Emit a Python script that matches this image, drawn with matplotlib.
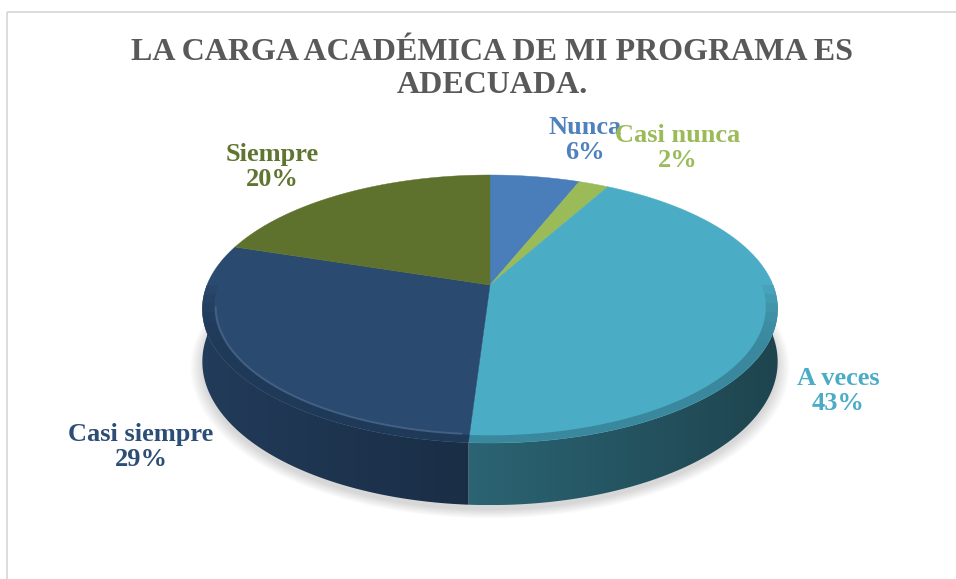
import numpy as np
import matplotlib
matplotlib.use("Agg")
import matplotlib.pyplot as plt
from matplotlib.colors import to_rgb
from matplotlib.patches import Polygon, Rectangle

# -------- DATA --------
labels = ["Nunca", "Casi nunca", "A veces", "Casi siempre", "Siempre"]
values = [6, 2, 43, 29, 20]
colors = ["#4A7EBB", "#9BBB59", "#4BACC6", "#2A4A70", "#5E722E"]
label_colors = ["#4F81BD", "#9BBB59", "#4BACC6", "#2C4D75", "#5F7530"]
label_pos = [(585, 140), (678, 148), (838, 391), (141, 447), (272, 167)]
title = "LA CARGA ACADÉMICA DE MI PROGRAMA ES\nADECUADA."

# -------- LAYOUT (pixels) --------
W, H = 956, 579
CX, CY = 490, 285      # projected centre of the top face
A, B = 283, 129.7      # horizontal / vertical radius before perspective
K = 0.179              # perspective strength
DEPTH = 51             # thickness of the pie

plt.rcParams["font.family"] = ["Liberation Serif", "DejaVu Serif"]


def proj(t, r=1.0, depth=0.0):
    # 3D circle point (angle t in degrees) -> screen pixels
    t = np.radians(t)
    u, v = r * np.cos(t), r * np.sin(t)
    den = 1 + K * v
    return CX + A * u / den, CY - B * v / den + depth / den


fig = plt.figure(figsize=(W / 100, H / 100), dpi=100)
ax = fig.add_axes([0, 0, 1, 1])
ax.axis("off")

ax.add_patch(Rectangle((7, 12), W + 20, H + 20, fill=False,
                       edgecolor="#D9D9D9", lw=1.3))

# soft shadow under the pie
ts_all = np.linspace(0, 360, 361)
for s in np.linspace(1.0, 1.04, 10):
    sx, sy = proj(ts_all, r=s, depth=DEPTH + 4)
    ax.add_patch(Polygon(np.column_stack([sx, sy]), closed=True,
                         color="black", alpha=0.017, lw=0, zorder=1))

cum = np.concatenate([[0], np.cumsum(values)]) / sum(values)

# side walls (front half only: angles -180..0)
shade = {2: (0.58, 0.40), 3: (0.80, 0.62)}
for i in range(len(values)):
    t1 = 90 - 360 * cum[i]
    t2 = 90 - 360 * cum[i + 1]
    a, b = max(t2, -180), min(t1, 0)
    if a >= b:
        continue
    ts = np.linspace(a, b, 120)
    xt, yt = proj(ts)
    xb, yb = proj(ts[::-1], depth=DEPTH)
    poly = Polygon(np.column_stack([np.r_[xt, xb], np.r_[yt, yb]]),
                   closed=True, color="none", lw=0)
    ax.add_patch(poly)
    f0, f1 = shade.get(i, (0.7, 0.5))
    base = np.array(to_rgb(colors[i]))
    grad = np.array([base * f for f in np.linspace(f0, f1, 64)])[None, :, :]
    x0, x1 = min(xt.min(), xb.min()), max(xt.max(), xb.max())
    y0, y1 = min(yt.min(), yb.min()), max(yt.max(), yb.max())
    im = ax.imshow(np.clip(grad, 0, 1), extent=(x0, x1, y1, y0),
                   aspect="auto", interpolation="bilinear", zorder=3)
    im.set_clip_path(poly)

# top face wedges (clockwise from 12 o'clock)
for i in range(len(values)):
    t1 = 90 - 360 * cum[i]
    t2 = 90 - 360 * cum[i + 1]
    ts = np.linspace(t1, t2, 200)
    xs, ys = proj(ts)
    ax.add_patch(Polygon(np.column_stack([np.r_[CX, xs], np.r_[CY, ys]]),
                         closed=True, facecolor=colors[i],
                         edgecolor=colors[i], lw=0.3, zorder=5))

# subtle bevel along the front rim
for j, alpha in enumerate(np.linspace(0.05, 0.0, 8)):
    lo, hi = -180 + j * 4, 0 - j * 4
    xo, yo = proj(np.linspace(lo, hi, 200))
    xi, yi = proj(np.linspace(hi, lo, 200), r=0.96)
    ax.add_patch(Polygon(np.column_stack([np.r_[xo, xi], np.r_[yo, yi]]),
                         closed=True, color="black", alpha=alpha, lw=0,
                         zorder=6))
xl, yl = proj(np.linspace(-170, -95, 200), r=0.955)
ax.plot(xl, yl, color="white", alpha=0.12, lw=1.4, zorder=6,
        solid_capstyle="round")

ax.set_xlim(0, W)
ax.set_ylim(H, 0)

# title
fig.text(492 / W, 1 - 69 / H, title, ha="center", va="center", fontsize=23,
         fontweight="bold", color="#595959", linespacing=1.17)

# data labels
for lab, val, col, (x, y) in zip(labels, values, label_colors, label_pos):
    ax.text(x, y, f"{lab}\n{val}%", ha="center", va="center", fontsize=19,
            fontweight="bold", color=col, linespacing=1.15, zorder=10)

fig.savefig("out.png", dpi=100)
